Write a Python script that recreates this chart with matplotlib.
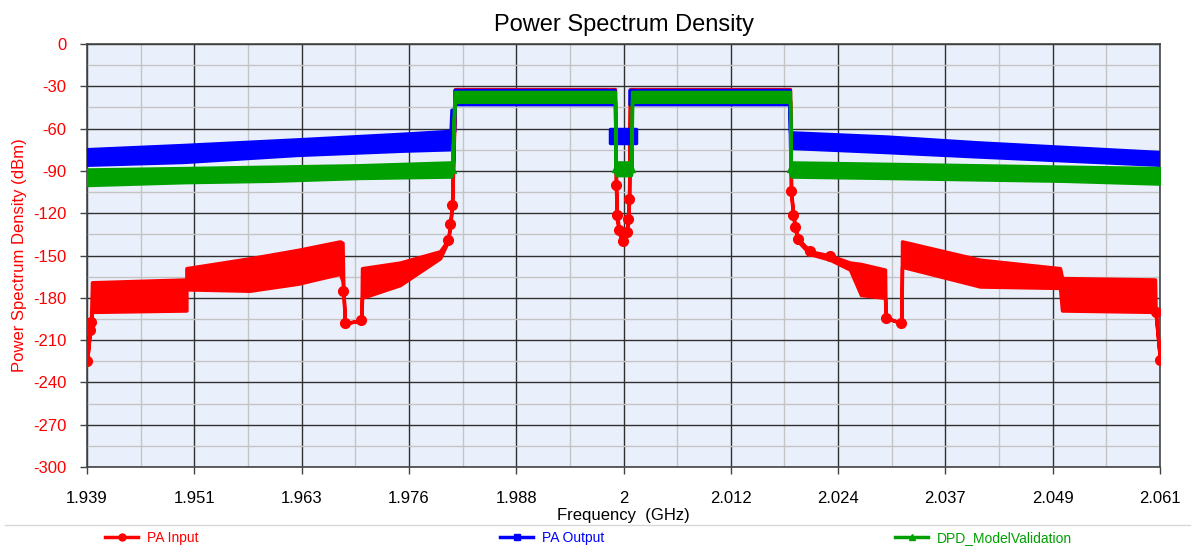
import numpy as np
import matplotlib
matplotlib.use("Agg")
import matplotlib.pyplot as plt
from matplotlib.lines import Line2D
from matplotlib.ticker import FixedLocator, MultipleLocator

plt.rcParams['font.family'] = ['Liberation Sans', 'DejaVu Sans']
plt.rcParams['axes.unicode_minus'] = False

# valori: frequenza (GHz), bordo alto / basso della traccia (dBm)
nan = np.nan

pa_in_freq = [1.93900, 1.93934, 1.93945, 1.93957, 1.95030, 1.95030, 1.95750, 1.96300,
              1.96777, 1.96805, 1.96815, 1.96833, 1.97020, 1.97027, 1.97459, 1.97914,
              1.98005, 1.98027, 1.98050, 1.98084, 1.99000, 1.99903, 1.99915, 1.99926,
              1.99950, 1.99994, 2.00035, 2.00050, 2.00063, 2.00074, 2.01000, 2.01893,
              2.01905, 2.01930, 2.01955, 2.01984, 2.02121, 2.02348, 2.02575, 2.02700,
              2.02973, 2.02980, 2.03160, 2.03167, 2.04054, 2.04963, 2.04986, 2.06043,
              2.06050, 2.06100]
pa_in_hi = [-225, -203, -197, -169, -167, -159, -152, -146,
            -140, -141, -175, -198, -196, -159, -155, -147,
            -139, -128, -114, -32, -32, -32, -100, -121,
            -132, -140, -133, -124, -110, -32, -32, -32,
            -104, -121, -130, -138, -147, -150, -155, -156,
            -160, -194, -198, -140, -153, -159, -166, -167,
            -190, -224]
pa_in_lo = [-225, -203, -197, -190, -189, -174, -175, -170,
            -163, -168, -175, -198, -196, -180, -171, -152,
            -140, -130, -116, -40, -41, -40, -104, -125,
            -134, -142, -135, -126, -112, -40, -41, -40,
            -106, -123, -132, -140, -149, -153, -160, -178,
            -180, -194, -198, -158, -172, -173, -189, -190,
            -190, -224]

pa_out_freq = [1.93900, 1.95000, 1.96300, 1.97500, 1.98040, 1.98050, 1.98080, 1.98084,
               1.99000, 1.99903, nan, 1.99849, 2.00145, nan, 2.00074, 2.01000,
               2.01893, 2.01900, 2.03000, 2.04000, 2.06100]
pa_out_hi = [-75, -72, -68, -64, -62, -47, -47, -33,
             -33, -33, nan, -60, -60, nan, -33, -33,
             -33, -63, -66, -70, -77]
pa_out_lo = [-86, -84, -79, -76, -75, -62, -62, -43,
             -43, -43, nan, -70, -70, nan, -43, -43,
             -43, -74, -77, -80, -86]

dpd_freq = [1.93900, 1.95000, 1.96000, 1.97000, 1.98040, 1.98050, 1.98080, 1.99000,
            1.99903, 1.99910, 1.99915, 2.00085, 2.00090, 2.00097, 2.01000, 2.01893,
            2.01900, 2.01910, 2.03000, 2.04000, 2.05000, 2.06100]
dpd_hi = [-89, -88, -87, -86, -84, -89, -34, -34,
          -34, -88, -84, -84, -88, -34, -34, -34,
          -88, -84, -85, -86, -87, -88]
dpd_lo = [-100, -98, -97, -95, -94, -91, -41, -41,
          -41, -90, -93, -93, -90, -41, -41, -41,
          -92, -94, -95, -96, -97, -99]

x_ticks = np.linspace(1.939, 2.061, 11)
x_labels = ['1.939', '1.951', '1.963', '1.976', '1.988', '2', '2.012', '2.024', '2.037', '2.049', '2.061']
y_ticks = list(range(0, -301, -30))

series = [
    ('PA Input', pa_in_freq, pa_in_hi, pa_in_lo, '#ff0000', 'o', 7),
    ('PA Output', pa_out_freq, pa_out_hi, pa_out_lo, '#0000ff', 's', 6),
    ('DPD_ModelValidation', dpd_freq, dpd_hi, dpd_lo, '#00a000', '^', 6),
]

fig = plt.figure(figsize=(12, 5.54), dpi=100)
ax = fig.add_axes([87 / 1200, 87 / 554, 1073 / 1200, 423 / 554])
ax.set_facecolor('#eaf0fb')

handles = []
for name, f, hi, lo, col, mk, ms in series:
    f = np.array(f, dtype=float)
    hi = np.array(hi, dtype=float)
    lo = np.array(lo, dtype=float)
    ax.fill_between(f, lo, hi, color=col, lw=2.5, edgecolor=col, zorder=3)
    # marker solo dove la traccia e' sottile (transizioni)
    thin = np.abs(hi - lo) <= 4
    ax.plot(f[thin], hi[thin], ls='none', marker=mk, ms=ms, color=col, zorder=3)
    handles.append(Line2D([], [], color=col, lw=2.5, marker=mk, ms=5, label=name))

ax.set_xlim(1.939, 2.061)
ax.set_ylim(-300, 0)
ax.xaxis.set_major_locator(FixedLocator(x_ticks))
ax.set_xticklabels(x_labels)
ax.xaxis.set_minor_locator(FixedLocator((x_ticks[:-1] + x_ticks[1:]) / 2))
ax.set_yticks(y_ticks)
ax.yaxis.set_minor_locator(MultipleLocator(15))

ax.grid(True, which='minor', color='#c4c4c4', lw=1.0, zorder=1)
ax.grid(True, which='major', color='#303030', lw=1.0, zorder=1)
ax.set_axisbelow(True)

ax.tick_params(axis='x', which='major', length=5, width=1, color='#444444', pad=12, labelsize=12)
ax.tick_params(axis='y', which='major', length=5, width=1, color='#444444', pad=10, labelsize=12, labelcolor='#ff0000')
ax.tick_params(which='minor', length=0)
for s in ax.spines.values():
    s.set_color('#444444')
    s.set_linewidth(1.2)

ax.set_title('Power Spectrum Density', fontsize=17, pad=9)
ax.set_xlabel('Frequency  (GHz)', fontsize=12, labelpad=2)
ax.set_ylabel('Power Spectrum Density (dBm)', fontsize=12, color='#ff0000', labelpad=4)

# legenda in basso, separata da una linea grigia
fig.add_artist(Line2D([5 / 1200, 1190 / 1200], [1 - 525 / 554] * 2, color='#d8d8d8', lw=1))
leg_x = [105 / 1200, 500 / 1200, 895 / 1200]
for h, xx in zip(handles, leg_x):
    lg = fig.legend(handles=[h], loc='center left', bbox_to_anchor=(xx, 1 - 538 / 554),
                    frameon=False, fontsize=10, handlelength=2.4, handletextpad=0.6,
                    borderpad=0, borderaxespad=0)
    lg.get_texts()[0].set_color(h.get_color())

fig.savefig('out.png', dpi=100)
